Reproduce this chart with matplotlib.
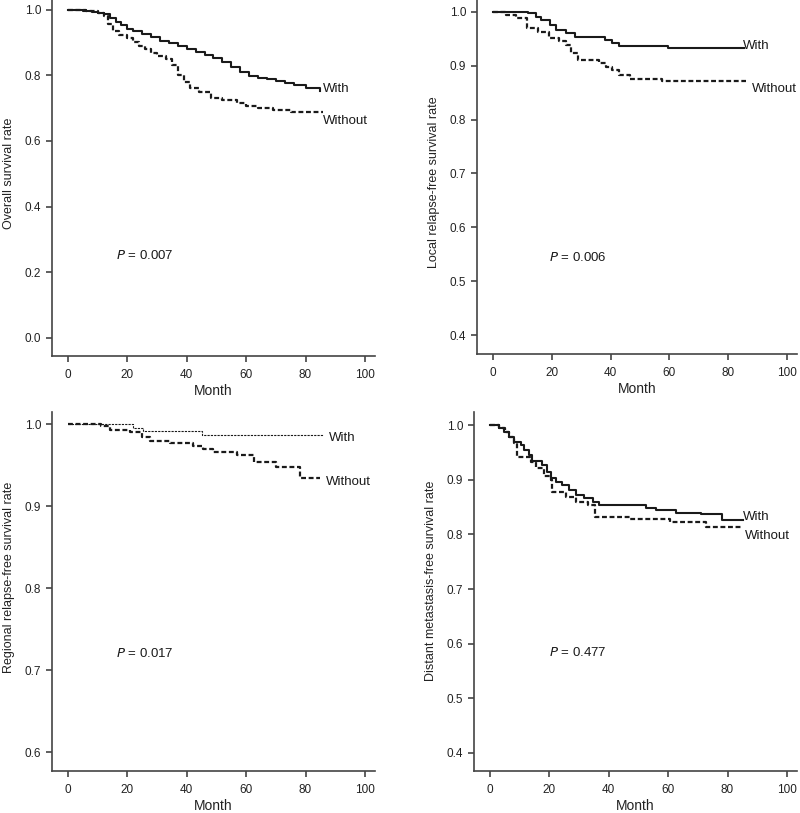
import numpy as np
import matplotlib
matplotlib.use("Agg")
import matplotlib.pyplot as plt

plt.rcParams['font.family'] = ['Liberation Sans', 'DejaVu Sans']

# overall survival
os_with_t = [0, 5, 8, 10, 12, 14, 16, 18, 20, 22, 25, 28, 31, 34, 37, 40, 43, 46, 49, 52, 55, 58, 61, 64, 67, 70, 73, 76, 80, 85]
os_with_s = [1.0, 0.997, 0.993, 0.99, 0.985, 0.975, 0.963, 0.952, 0.942, 0.935, 0.925, 0.915, 0.905, 0.898, 0.89,
             0.88, 0.87, 0.862, 0.852, 0.84, 0.825, 0.81, 0.798, 0.793, 0.788, 0.782, 0.775, 0.77, 0.762, 0.752]
os_without_t = [0, 6, 10, 12, 13.5, 15, 17, 20, 22, 24, 26, 28, 30, 33, 35, 37, 39, 41, 44, 48, 52, 57, 60, 64, 69, 75, 86]
os_without_s = [1.0, 0.995, 0.988, 0.98, 0.955, 0.935, 0.922, 0.912, 0.9, 0.89, 0.88, 0.868, 0.86, 0.85, 0.83, 0.8,
                0.78, 0.76, 0.748, 0.73, 0.725, 0.715, 0.705, 0.7, 0.695, 0.688, 0.688]

# local relapse-free survival
lr_with_t = [0, 12, 14.5, 16.5, 19.5, 21.5, 25, 28, 38, 40.5, 43, 59.5, 85.5]
lr_with_s = [1.0, 0.997, 0.991, 0.985, 0.975, 0.967, 0.961, 0.954, 0.948, 0.943, 0.937, 0.932, 0.932]
lr_without_t = [0, 4.5, 8, 11.5, 15.5, 19, 22.5, 25, 26.5, 29, 36, 38.5, 40.5, 43, 46.5, 57.5, 86]
lr_without_s = [1.0, 0.995, 0.989, 0.97, 0.963, 0.952, 0.945, 0.939, 0.924, 0.911, 0.906, 0.898, 0.893, 0.883,
                0.876, 0.872, 0.872]

# regional relapse-free survival
rr_with_t = [0, 22, 25.4, 45, 85.8]
rr_with_s = [1.0, 0.996, 0.992, 0.987, 0.987]
rr_without_t = [0, 11, 14, 21, 25, 27.5, 34.5, 42, 45.5, 49, 57, 62.5, 70, 78, 85]
rr_without_s = [1.0, 0.998, 0.993, 0.991, 0.985, 0.98, 0.977, 0.974, 0.97, 0.966, 0.962, 0.954, 0.948, 0.935, 0.935]

# distant metastasis-free survival
dm_with_t = [0, 3, 4.7, 6.4, 8, 10.4, 11.5, 13.2, 14.3, 17.6, 19.3, 20.5, 22.2, 24.4, 26.7, 29, 31.8, 34.6, 36.8,
             52.6, 56, 62.7, 71.2, 78, 85.2]
dm_with_s = [1.0, 0.994, 0.988, 0.979, 0.97, 0.963, 0.954, 0.945, 0.935, 0.927, 0.915, 0.904, 0.896, 0.89, 0.882,
             0.872, 0.866, 0.86, 0.854, 0.848, 0.845, 0.84, 0.837, 0.826, 0.826]
dm_without_t = [0, 3, 5, 6.5, 8, 9, 13.7, 15.4, 18.2, 20.5, 21, 25.6, 29, 32.9, 35.5, 47, 60.5, 72.9, 85.2]
dm_without_s = [1.0, 0.994, 0.987, 0.979, 0.967, 0.942, 0.933, 0.921, 0.906, 0.9, 0.878, 0.869, 0.86, 0.854, 0.832,
                0.829, 0.823, 0.814, 0.814]

W, H = 800, 813
fig = plt.figure(figsize=(W / 100, H / 100), dpi=100)


def make_ax(l, r, t, b):
    # pixel box -> figure fraction
    return fig.add_axes([l / W, 1 - b / H, (r - l) / W, (b - t) / H])


ink = '#1a1a1a'
spine_c = '#444444'


def style(ax, ylim, yticks, ylabel, lab_y):
    ax.set_xlim(-5.4, 103.4)
    ax.set_ylim(*ylim)
    ax.set_xticks(range(0, 101, 20))
    ax.set_yticks(yticks)
    ax.set_yticklabels(['%.1f' % v for v in yticks])
    for s in ['top', 'right']:
        ax.spines[s].set_visible(False)
    for s in ['left', 'bottom']:
        ax.spines[s].set_color(spine_c)
        ax.spines[s].set_linewidth(1.2)
    ax.tick_params(direction='out', length=4.3, width=1.2, color=spine_c, labelsize=8.5, labelcolor='#222222')
    ax.tick_params(axis='y', pad=3.5)
    ax.tick_params(axis='x', pad=5)
    ax.set_xlabel('Month', fontsize=10, color='#222222', labelpad=2)
    ax.set_ylabel(ylabel, fontsize=9, color='#222222')
    # right edge of the rotated label sits ~37 px left of the spine
    ax.yaxis.set_label_coords(-37 / ax.bbox.width, lab_y)


def curves(ax, t1, s1, t2, s2, thin_with=False):
    if thin_with:
        ax.plot(t1, s1, drawstyle='steps-post', color=ink, lw=0.8, dashes=(2, 1))
    else:
        ax.plot(t1, s1, drawstyle='steps-post', color=ink, lw=1.5)
    ax.plot(t2, s2, drawstyle='steps-post', color=ink, lw=1.6, dashes=(2.2, 1.2))


# top left
ax1 = make_ax(52, 375, 0, 356)
curves(ax1, os_with_t, os_with_s, os_without_t, os_without_s)
style(ax1, (-0.055, 1.029), [0.0, 0.2, 0.4, 0.6, 0.8, 1.0], 'Overall survival rate', 0.514)
ax1.text(86, 0.758, 'With', fontsize=9.5, va='center', ha='left', color=ink)
ax1.text(86, 0.66, 'Without', fontsize=9.5, va='center', ha='left', color=ink)
ax1.text(16, 0.25, r'$\it{P}$ = 0.007', fontsize=9.5, va='center', ha='left', color=ink)

# top right
ax2 = make_ax(477, 797, 0, 354)
curves(ax2, lr_with_t, lr_with_s, lr_without_t, lr_without_s)
style(ax2, (0.365, 1.022), [0.4, 0.5, 0.6, 0.7, 0.8, 0.9, 1.0], 'Local relapse-free survival rate', 0.485)
ax2.text(85, 0.937, 'With', fontsize=9.5, va='center', ha='left', color=ink)
ax2.text(88, 0.857, 'Without', fontsize=9.5, va='center', ha='left', color=ink)
ax2.text(19, 0.545, r'$\it{P}$ = 0.006', fontsize=9.5, va='center', ha='left', color=ink)

# bottom left
ax3 = make_ax(52, 375, 412, 771)
curves(ax3, rr_with_t, rr_with_s, rr_without_t, rr_without_s, thin_with=True)
style(ax3, (0.577, 1.015), [0.6, 0.7, 0.8, 0.9, 1.0], 'Regional relapse-free survival rate', 0.538)
ax3.text(88, 0.983, 'With', fontsize=9.5, va='center', ha='left', color=ink)
ax3.text(86.8, 0.929, 'Without', fontsize=9.5, va='center', ha='left', color=ink)
ax3.text(16, 0.72, r'$\it{P}$ = 0.017', fontsize=9.5, va='center', ha='left', color=ink)

# bottom right
ax4 = make_ax(474, 797, 412, 771)
curves(ax4, dm_with_t, dm_with_s, dm_without_t, dm_without_s)
style(ax4, (0.367, 1.024), [0.4, 0.5, 0.6, 0.7, 0.8, 0.9, 1.0], 'Distant metastasis-free survival rate', 0.53)
ax4.text(85.2, 0.832, 'With', fontsize=9.5, va='center', ha='left', color=ink)
ax4.text(85.8, 0.797, 'Without', fontsize=9.5, va='center', ha='left', color=ink)
ax4.text(20, 0.583, r'$\it{P}$ = 0.477', fontsize=9.5, va='center', ha='left', color=ink)

fig.savefig('out.png', dpi=100)
